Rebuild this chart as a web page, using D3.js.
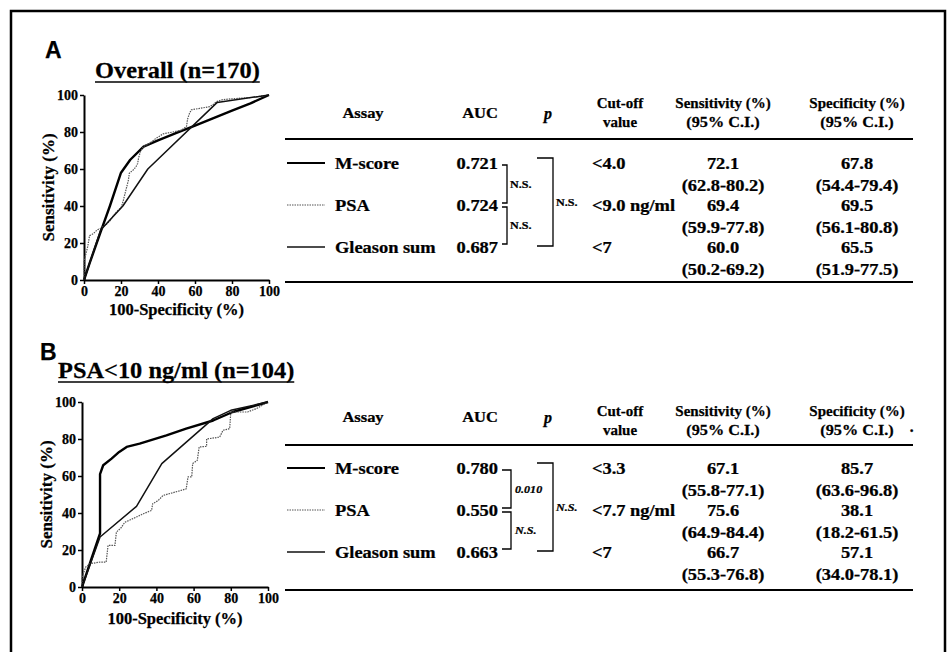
<!DOCTYPE html>
<html>
<head>
<meta charset="utf-8">
<script src="https://cdn.jsdelivr.net/npm/d3@7"></script>
<style>
  body { margin: 0; background: #fff; }
  svg { display: block; font-family: "Liberation Serif", "Times New Roman", serif; font-weight: bold; }
  svg text { stroke: #000; stroke-width: 0.25px; }
</style>
</head>
<body>
<svg id="fig" width="947" height="652"></svg>
<script>
// ---------- data ----------
var assays = ["M-score", "PSA", "Gleason sum"];
var axisTicks = [0, 20, 40, 60, 80, 100];

// panel A : overall (n=170)
var aucA = ["0.721", "0.724", "0.687"];
var pA = ["N.S.", "N.S.", "N.S."];          // M vs PSA, PSA vs Gleason, M vs Gleason
var cutA = ["<4.0", "<9.0 ng/ml", "<7"];
var sensA = ["72.1", "69.4", "60.0"];
var sensCIA = ["(62.8-80.2)", "(59.9-77.8)", "(50.2-69.2)"];
var specA = ["67.8", "69.5", "65.5"];
var specCIA = ["(54.4-79.4)", "(56.1-80.8)", "(51.9-77.5)"];

// panel B : PSA<10 ng/ml (n=104)
var aucB = ["0.780", "0.550", "0.663"];
var pB = ["0.010", "N.S.", "N.S."];
var cutB = ["<3.3", "<7.7 ng/ml", "<7"];
var sensB = ["67.1", "75.6", "66.7"];
var sensCIB = ["(55.8-77.1)", "(64.9-84.4)", "(55.3-76.8)"];
var specB = ["85.7", "38.1", "57.1"];
var specCIB = ["(63.6-96.8)", "(18.2-61.5)", "(34.0-78.1)"];

// ROC curves, [100-specificity, sensitivity]
var rocA_M = [[0,0],[3,9],[9,26],[14,40],[20,58],[25,65],[32.2,72.1],[40,75.5],[50,79.5],[60,83.5],[70,87.5],[80,91.5],[90,95.5],[100,100]];
var rocA_P = [[0,0],[0,10],[1,14],[2,18],[3,24],[5,25],[7,27],[9,28],[12,30],[14,32],[16,35],[18.5,37.8],[20,39],[21,42],[22,46],[23,50],[24,54],[24.5,57.7],[26.6,59.5],[28,61],[29,63],[29.5,66],[30.5,69.4],[32,72],[35.6,74],[39,76.6],[42.8,79],[48,80],[52.7,81],[55.4,83],[56,87],[57,90],[58,92],[62.6,92.8],[68,93.7],[70,95],[71.6,96.4],[75,97.5],[80.6,98],[91,98.7],[100,100]];
var rocA_G = [[0,0],[9,27],[21,40],[34.5,60],[72,96],[100,100]];

var rocB_M = [[0,0],[2,6],[5,15],[9.7,29],[9.7,61],[11.4,65.8],[15.9,69.4],[20,73],[24,75.7],[31,77.5],[45.4,82],[56,85.6],[70.5,90],[81,94.6],[100,100]];
var rocB_P = [[0,0],[0,5],[1,8],[2,10.8],[4.3,12.6],[9.7,13.5],[13,13.5],[14,22.5],[17.7,22.5],[18.5,29.7],[21,32],[23,35],[27.5,37],[33,39.6],[37.4,41.4],[38,45],[41,46.8],[43.6,49.5],[49,51],[56,53],[57,59.5],[59,59.5],[59.5,66.7],[62,68.5],[63,75.7],[67,76],[67,80],[74,81],[75.8,84.7],[79.4,85.6],[80,94.6],[89,94.6],[93.7,96.4],[100,100]];
var rocB_G = [[0,0],[9.7,27],[29.3,43.6],[42.9,66.7],[70.5,91],[80,95.5],[100,100]];

// ---------- layout ----------
var panels = [
  { letter: "A", title: "Overall (n=170)", letterX: 45, letterY: 58, titleX: 95, titleY: 78,
    plot: {left: 84, right: 269, top: 95, bottom: 280}, xLabelY: 315,
    hdr: 113, hdr1: 103, hdr2: 122, rule1: 139, row0: 163, rule2: 282, inner: 507, innerText: 510,
    auc: aucA, p: pA, cut: cutA, sens: sensA, sensCI: sensCIA, spec: specA, specCI: specCIA,
    roc: [rocA_M, rocA_P, rocA_G], pItalic: false },
  { letter: "B", title: "PSA<10 ng/ml (n=104)", letterX: 40, letterY: 360, titleX: 58, titleY: 378,
    plot: {left: 82, right: 268, top: 402, bottom: 587}, xLabelY: 624,
    hdr: 417, hdr1: 411, hdr2: 430, rule1: 445, row0: 468, rule2: 590, inner: 511, innerText: 515,
    auc: aucB, p: pB, cut: cutB, sens: sensB, sensCI: sensCIB, spec: specB, specCI: specCIB,
    roc: [rocB_M, rocB_P, rocB_G], pItalic: true }
];

var styles = [
  { width: 2.4, color: "#000", dash: null },
  { width: 1.2, color: "#555", dash: "1.5,1" },
  { width: 1.5, color: "#111", dash: null }
];

var svg = d3.select("#fig");
svg.append("rect").attr("width", 947).attr("height", 652).attr("fill", "#fff");

// scanned page frame
svg.append("path")
    .attr("d", "M11,652V11H945V652")
    .attr("fill", "none")
    .attr("stroke", "#000")
    .attr("stroke-width", 2.5);

function label(g, x, y, s, o) {
  o = o || {};
  return g.append("text")
      .attr("transform", "translate(" + x + "," + y + ") scale(" + (o.sx || 1) + ",1)")
      .attr("dy", o.dy !== undefined ? o.dy : "0.35em")
      .attr("text-anchor", o.anchor || "start")
      .attr("font-size", o.size || 16)
      .attr("font-style", o.italic ? "italic" : null)
      .attr("font-family", o.family || null)
      .text(s);
}

var TX = 1.15; // scan stretches the table text a little

panels.forEach(function(P) {
  var g = svg.append("g");

  // letter + underlined title
  label(g, P.letterX, P.letterY, P.letter, {size: 23, dy: 0, family: "'Liberation Sans', Arial, sans-serif"});
  var t = label(g, P.titleX, P.titleY, P.title, {size: 23, dy: 0, sx: 1.06});
  var tw = t.node().getComputedTextLength() * 1.06;
  g.append("line")
      .attr("x1", P.titleX).attr("x2", P.titleX + tw)
      .attr("y1", P.titleY + 4).attr("y2", P.titleY + 4)
      .attr("stroke", "#000").attr("stroke-width", 1.6);

  // ROC plot
  var x = d3.scaleLinear().domain([0, 100]).range([P.plot.left, P.plot.right]);
  var y = d3.scaleLinear().domain([0, 100]).range([P.plot.bottom, P.plot.top]);

  var ax = g.append("g")
      .attr("transform", "translate(0," + P.plot.bottom + ")")
      .call(d3.axisBottom(x).tickValues(axisTicks).tickSize(4).tickSizeOuter(0).tickPadding(2));
  var ay = g.append("g")
      .attr("transform", "translate(" + P.plot.left + ",0)")
      .call(d3.axisLeft(y).tickValues(axisTicks).tickSize(4).tickSizeOuter(0).tickPadding(2));
  [ax, ay].forEach(function(a) {
    a.attr("font-family", null).attr("font-size", 14);
    a.select(".domain").attr("stroke-width", 2);
    a.selectAll(".tick line").attr("stroke-width", 1.5);
  });

  label(g, (P.plot.left + P.plot.right) / 2, P.xLabelY, "100-Specificity (%)", {size: 16.5, anchor: "middle", dy: 0});
  g.append("text")
      .attr("transform", "translate(" + (P.plot.left - 30) + "," + ((P.plot.top + P.plot.bottom) / 2) + ") rotate(-90)")
      .attr("text-anchor", "middle")
      .attr("font-size", 17)
      .text("Sensitivity (%)");

  var line = d3.line().x(function(d) { return x(d[0]); }).y(function(d) { return y(d[1]); });
  P.roc.forEach(function(r, i) {
    g.append("path")
        .datum(r)
        .attr("d", line)
        .attr("fill", "none")
        .attr("stroke", styles[i].color)
        .attr("stroke-width", styles[i].width)
        .attr("stroke-dasharray", styles[i].dash)
        .attr("stroke-linejoin", "round");
  });

  // table
  var rowY = function(i) { return P.row0 + 42 * i; };

  label(g, 363, P.hdr, "Assay", {anchor: "middle", size: 15, sx: 1.1});
  label(g, 480, P.hdr, "AUC", {anchor: "middle", size: 15, sx: 1.1});
  label(g, 548, P.hdr, "p", {anchor: "middle", size: 16, italic: true});
  label(g, 620, P.hdr1, "Cut-off", {anchor: "middle", size: 15});
  label(g, 620, P.hdr2, "value", {anchor: "middle", size: 15});
  label(g, 723, P.hdr1, "Sensitivity (%)", {anchor: "middle", size: 15});
  label(g, 723, P.hdr2, "(95% C.I.)", {anchor: "middle", size: 15, sx: 1.08});
  label(g, 857, P.hdr1, "Specificity (%)", {anchor: "middle", size: 15});
  label(g, 857, P.hdr2, "(95% C.I.)", {anchor: "middle", size: 15, sx: 1.08});

  [P.rule1, P.rule2].forEach(function(ry) {
    g.append("line").attr("x1", 285).attr("x2", 913).attr("y1", ry).attr("y2", ry)
        .attr("stroke", "#000").attr("stroke-width", 2);
  });

  assays.forEach(function(a, i) {
    var ry = rowY(i);
    g.append("line").attr("x1", 287).attr("x2", 325).attr("y1", ry).attr("y2", ry)
        .attr("stroke", styles[i].color)
        .attr("stroke-width", Math.min(styles[i].width, 1.8))
        .attr("stroke-dasharray", styles[i].dash);
    label(g, 335, ry, a, {sx: TX});
    label(g, 498, ry, P.auc[i], {anchor: "end", sx: TX});
    label(g, 592, ry, P.cut[i], {sx: TX});
    label(g, 723, ry, P.sens[i], {anchor: "middle", sx: TX});
    label(g, 723, ry + 22, P.sensCI[i], {anchor: "middle", sx: TX});
    label(g, 857, ry, P.spec[i], {anchor: "middle", sx: TX});
    label(g, 857, ry + 22, P.specCI[i], {anchor: "middle", sx: TX});
  });

  // comparison brackets
  var r0 = rowY(0), r1 = rowY(1), r2 = rowY(2);
  var brackets = [
    { x: P.inner, x0: 502, top: r0 + 2, bot: r1 - 2, text: P.p[0], tx: P.innerText },
    { x: P.inner, x0: 502, top: r1 + 2, bot: r2 - 3, text: P.p[1], tx: P.innerText },
    { x: 553, x0: 537, top: r0 - 5, bot: r2 - 1, text: P.p[2], tx: 556 }
  ];
  brackets.forEach(function(b) {
    g.append("path")
        .attr("d", "M" + b.x0 + "," + b.top + "H" + b.x + "V" + b.bot + "H" + b.x0)
        .attr("fill", "none").attr("stroke", "#000").attr("stroke-width", 1.3);
    label(g, b.tx, (b.top + b.bot) / 2, b.text, {size: 11, sx: 1.1, italic: P.pItalic});
  });
});

// stray dot from the scan, right of panel B header
label(svg, 909, 430, "\u00b7", {size: 16});
</script>
</body>
</html>
